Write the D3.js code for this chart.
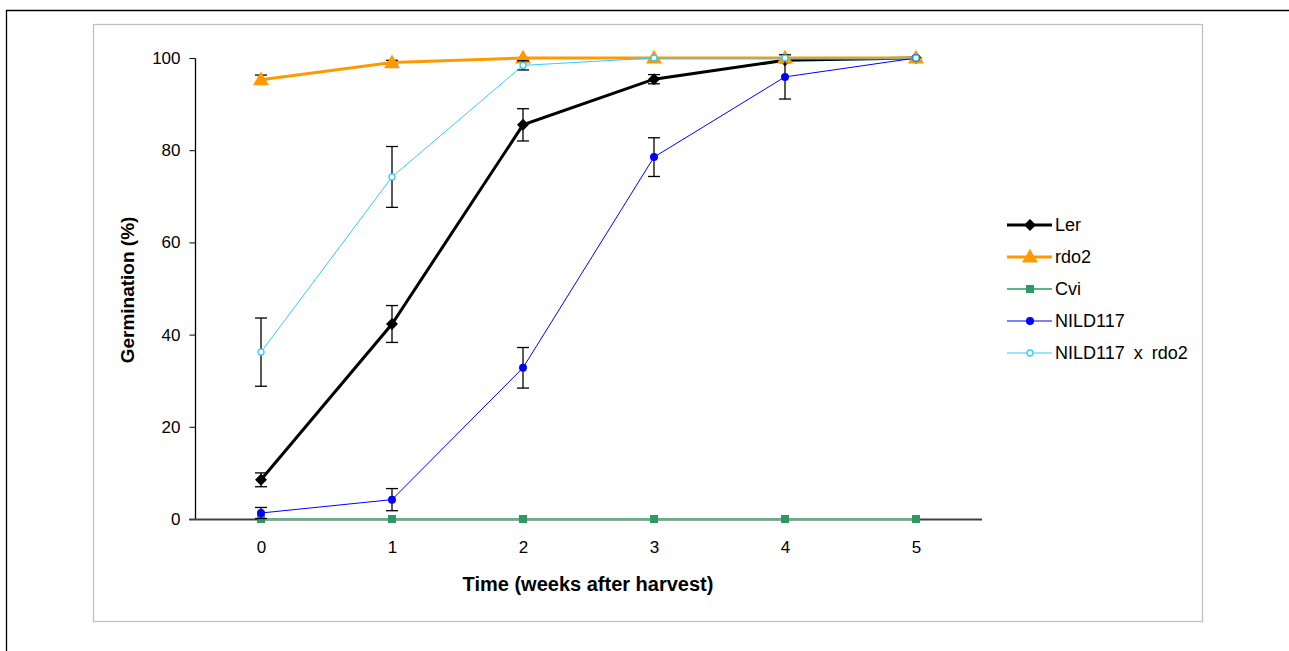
<!DOCTYPE html>
<html>
<head>
<meta charset="utf-8">
<script src="https://cdn.jsdelivr.net/npm/d3@7"></script>
<style>
  body { margin: 0; background: #fff; }
  svg text { font-family: "Liberation Sans", Arial, sans-serif; fill: #000; }
</style>
</head>
<body>
<svg id="chart" width="1289" height="651"></svg>
<script>
const WEEKS = [0, 1, 2, 3, 4, 5]
const Y_TICKS = [0, 20, 40, 60, 80, 100]

const LER = [8.5, 42.3, 85.5, 95.4, 99.5, 100]
const LER_ERR = [1.5, 4, 3.5, 1, 0.5, 0]
const RDO2 = [95.3, 99, 100, 100, 100, 100]
const RDO2_ERR = [1, 0.5, 0, 0, 0, 0]
const CVI = [0, 0, 0, 0, 0, 0]
const CVI_ERR = [0, 0, 0, 0, 0, 0]
const NILD117 = [1.3, 4.2, 32.8, 78.5, 95.9, 100]
const NILD117_ERR = [1.2, 2.4, 4.4, 4.2, 4.8, 0]
const CROSS = [36.2, 74.2, 98.4, 100, 100, 100]
const CROSS_ERR = [7.4, 6.6, 1, 0, 0, 0]

const SERIES = [
  {name: "Ler", values: LER, err: LER_ERR, color: "#000000", width: 3, shape: "diamond", fill: "#000000"},
  {name: "rdo2", values: RDO2, err: RDO2_ERR, color: "#FF9900", width: 3, shape: "triangle", fill: "#FF9900"},
  {name: "Cvi", values: CVI, err: CVI_ERR, color: "#5CB584", width: 2, shape: "square", fill: "#2E9965"},
  {name: "NILD117", values: NILD117, err: NILD117_ERR, color: "#0000FF", width: 1, shape: "circle", fill: "#0000FF"},
  {name: "NILD117 x rdo2", values: CROSS, err: CROSS_ERR, color: "#33CCFF", width: 1, shape: "hollow", fill: "#ffffff"}
]

const svg = d3.select("#chart")

// frames
svg.append("path").attr("d", "M6.5,651 V10.5 H1289").attr("fill", "none").attr("stroke", "#000").attr("stroke-width", 1.3)
svg.append("rect").attr("x", 93.5).attr("y", 24.5).attr("width", 1109).attr("height", 597)
  .attr("fill", "none").attr("stroke", "#c0c0c0").attr("stroke-width", 1.3)

const x = d3.scalePoint().domain(WEEKS).range([261, 916])
const y = d3.scaleLinear().domain([0, 100]).range([519, 58])

// y axis
const yAxis = svg.append("g").attr("transform", "translate(195.5,0)")
  .call(d3.axisLeft(y).tickValues(Y_TICKS).tickSize(6).tickPadding(9))
yAxis.select(".domain").attr("stroke", "#000").attr("stroke-width", 1.3).attr("d", "M0,58.5V519.5")
yAxis.selectAll(".tick line").attr("stroke", "#000")
yAxis.selectAll(".tick text").attr("font-size", 17).attr("fill", "#000")

// x axis
const xAxis = svg.append("g").attr("transform", "translate(0,519.5)")
  .call(d3.axisBottom(x).tickSize(0).tickPadding(21))
xAxis.select(".domain").attr("stroke", "#404040").attr("stroke-width", 2).attr("d", "M189,0H982")
xAxis.selectAll(".tick text").attr("font-size", 17).attr("fill", "#000")

// titles
svg.append("text").attr("x", 588).attr("y", 591).attr("text-anchor", "middle")
  .attr("font-size", 20).attr("font-weight", "bold").text("Time (weeks after harvest)")
svg.append("text").attr("transform", "translate(134,290) rotate(-90)").attr("text-anchor", "middle")
  .attr("font-size", 19).attr("font-weight", "bold").text("Germination (%)")

function drawMarker(g, s, cx, cy) {
  if (s.shape === "diamond") {
    g.append("path").attr("d", "M0,-6L6,0L0,6L-6,0Z")
      .attr("transform", `translate(${cx},${cy})`).attr("fill", s.fill)
  } else if (s.shape === "triangle") {
    g.append("path").attr("d", d3.symbol(d3.symbolTriangle, 110)())
      .attr("transform", `translate(${cx},${cy + 1})`).attr("fill", s.fill)
  } else if (s.shape === "square") {
    g.append("rect").attr("x", cx - 4).attr("y", cy - 4).attr("width", 8).attr("height", 8).attr("fill", s.fill)
  } else if (s.shape === "circle") {
    g.append("circle").attr("cx", cx).attr("cy", cy).attr("r", 4).attr("fill", s.fill)
  } else {
    g.append("circle").attr("cx", cx).attr("cy", cy).attr("r", 3).attr("fill", "#fff")
      .attr("stroke", s.color).attr("stroke-width", 1.3)
  }
}

const line = d3.line().x((d, i) => x(WEEKS[i])).y(d => y(d))

for (let s of SERIES) {
  const g = svg.append("g")
  // error bars
  s.values.forEach((v, i) => {
    if (s.err[i] <= 0.2) return
    const cx = x(WEEKS[i])
    const y1 = y(v + s.err[i]), y2 = y(v - s.err[i])
    g.append("line").attr("x1", cx).attr("x2", cx).attr("y1", y1).attr("y2", y2).attr("stroke", "#000").attr("stroke-width", 1.3)
    g.append("line").attr("x1", cx - 6).attr("x2", cx + 6).attr("y1", y1).attr("y2", y1).attr("stroke", "#000").attr("stroke-width", 1.3)
    g.append("line").attr("x1", cx - 6).attr("x2", cx + 6).attr("y1", y2).attr("y2", y2).attr("stroke", "#000").attr("stroke-width", 1.3)
  })
  g.append("path").datum(s.values).attr("d", line).attr("fill", "none")
    .attr("stroke", s.color).attr("stroke-width", s.width)
  s.values.forEach((v, i) => drawMarker(g, s, x(WEEKS[i]), y(v)))
}

// legend
const legend = svg.append("g").attr("transform", "translate(1007,0)")
SERIES.forEach((s, i) => {
  const ly = 225 + i * 32
  legend.append("line").attr("x1", 0).attr("x2", 45).attr("y1", ly).attr("y2", ly)
    .attr("stroke", s.color).attr("stroke-width", s.width)
  drawMarker(legend, s, 23, ly)
  legend.append("text").attr("x", 48).attr("y", ly).attr("dy", "0.36em")
    .attr("font-size", 18).attr("word-spacing", 4).text(s.name)
})
</script>
</body>
</html>
